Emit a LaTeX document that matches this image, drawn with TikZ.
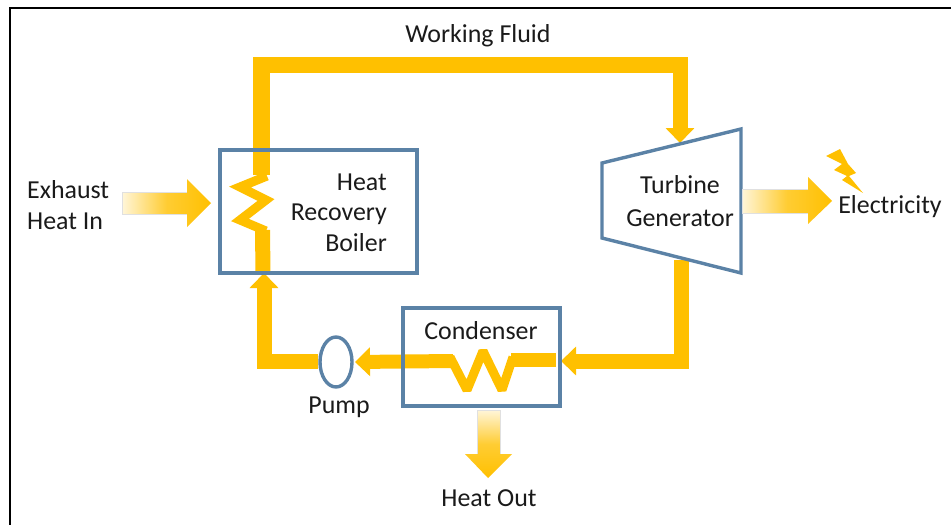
\documentclass[tikz,border=0pt]{standalone}
\usepackage{fontspec}
\setmainfont{Carlito}
\usetikzlibrary{arrows.meta,calc}
\definecolor{pipe}{HTML}{FFC000}
\definecolor{boxblue}{HTML}{5B82A6}
\definecolor{txt}{HTML}{1A1A1A}
\tikzset{
  pipeline/.style={draw=pipe,line width=15pt,line join=miter},
  coil/.style={draw=pipe,line width=9pt,line join=miter},
  pipetip/.style={-{Triangle[length=15pt,width=28pt,fill=pipe]}},
  unitbox/.style={draw=boxblue,line width=3.4pt,fill=none,inner sep=0pt},
  lbl/.style={text=txt,font=\fontsize{25.9}{30.5}\selectfont,inner sep=0pt},
  heatarrow/.style={draw=black!12,line width=.6pt}
}
\begin{document}
\begin{tikzpicture}[x=1pt,y=-1pt]
\useasboundingbox (0,0) rectangle (951,525);
\fill[white] (0,0) rectangle (951,525);
\draw[black,line width=2pt] (10,530) -- (10,7.5) -- (960,7.5);
% named places
\coordinate (tl) at (261.5,65);
\coordinate (tr) at (680,65);
\coordinate (tin) at (680,143);
\coordinate (bin) at (264,273);
\coordinate (bout) at (261.5,175);
\coordinate (cb) at (262.5,230);
\coordinate (pl) at (264,361);
\coordinate (tout) at (681,260);
\coordinate (tc) at (681,361);
\coordinate (cin) at (561,361);
\coordinate (cpipe) at (556,360);
\coordinate (cpipel) at (511,360);
\coordinate (cpipee) at (453,361);
\coordinate (pin) at (355,362);
\coordinate (pout) at (318,361);
% pipes
\draw[pipeline,line width=16.5pt] (bout) -- (tl) -- (tr) -- ($(tr)+(0,8)$);
\draw[pipeline,line width=15pt,pipetip] (tr) -- (tin);
\draw[coil] (267,176) -- (240,187) -- (266,200) -- (240,220) -- (266,231);
\draw[pipeline] (cb) -- (263,273);
\draw[pipeline,line width=15pt,pipetip] (pout) -- (pl) -- (bin);
\draw[pipeline,pipetip] (tout) -- (tc) -- (cin);
\draw[pipeline,line width=14pt] (cpipe) -- (cpipel);
\draw[pipeline,line width=14pt,pipetip] (cpipee) -- (pin);
\draw[coil,line join=bevel] (450,357) -- (467,390) -- (483,351) -- (502,390) -- (513,357);
% units
\node[unitbox,minimum width=197pt,minimum height=123pt] (boiler) at (318.5,211.5) {};
\node[unitbox,minimum width=157pt,minimum height=98pt] (condenser) at (481.5,357) {};
\draw[boxblue,line width=3.4pt,fill=white,line join=miter] (602,163) -- (741,129) -- (741,273) -- (602,238) -- cycle;
\coordinate (turbine) at (671,201);
\draw[boxblue,line width=3.4pt] (336,362) ellipse [x radius=16,y radius=25];
\coordinate (pump) at (336,362);
% heat arrows
\shade[left color=pipe!15,right color=pipe,middle color=pipe!80] (122,192) -- (187,192) -- (187,179) -- (211,203) -- (187,227) -- (187,214) -- (122,214) -- cycle;
\shade[left color=pipe!15,right color=pipe,middle color=pipe!80] (742,189) -- (808,189) -- (808,177) -- (832,201) -- (808,224) -- (808,213) -- (742,213) -- cycle;
\shade[top color=pipe!15,bottom color=pipe,middle color=pipe!80] (477,410) -- (500,410) -- (500,454) -- (512,454) -- (488,478) -- (465,454) -- (477,454) -- cycle;
\draw[heatarrow] (187,192) -- (122,192) -- (122,214) -- (187,214);
\draw[heatarrow] (808,189) -- (742,189) -- (742,213) -- (808,213);
\draw[heatarrow] (477,454) -- (477,410) -- (500,410) -- (500,454);
% bolt
\fill[pipe] (826,156) -- (840,149) -- (848,164) -- (856,173) -- (849,176) -- (863,193) -- (842,180) -- (847,176) -- (834,170) -- (842,164) -- cycle;
% labels
\node[lbl,anchor=base] (wf) at (478,42) {Working Fluid};
\node[lbl,anchor=west,align=left] (ex) at (27,205) {Exhaust\\Heat In};
\node[lbl,anchor=east,align=right] (hrb) at (387,212.5) {Heat\\Recovery\\Boiler};
\node[lbl,anchor=center,align=center] (tg) at (680,201.5) {Turbine\\[2.5pt]Generator};
\node[lbl,anchor=base] (el) at (890,213) {Electricity};
\node[lbl,anchor=base] (cn) at (481,339) {Condenser};
\node[lbl,anchor=base] (pm) at (339,413) {Pump};
\node[lbl,anchor=base] (ho) at (489,506) {Heat Out};
\end{tikzpicture}
\end{document}
